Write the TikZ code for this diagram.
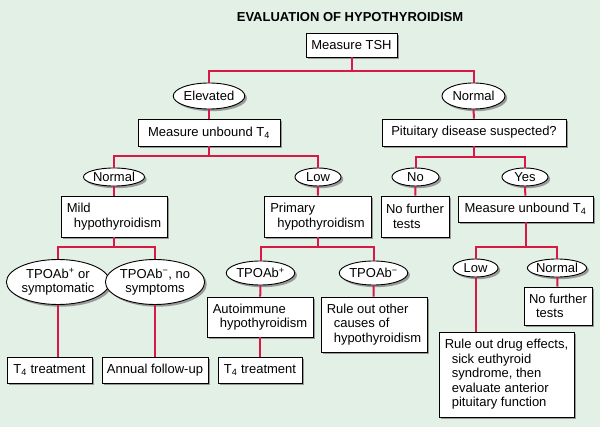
\documentclass[tikz,border=0pt]{standalone}
\usepackage{fontspec}
\setmainfont{Liberation Sans}
\usepackage{tikz}
\usetikzlibrary{positioning, shapes.geometric, shadows}

\definecolor{bggreen}{RGB}{226,240,230}
\definecolor{linkred}{RGB}{218,24,72}

\begin{document}
\begin{tikzpicture}[
    x=1pt, y=-1pt,
    font=\fontsize{13}{14.5}\selectfont,
    shade/.style={drop shadow={shadow xshift=2.2pt, shadow yshift=-2.2pt,
                  fill=black!40, opacity=1}},
    box/.style={draw, rectangle, fill=white, line width=0.9pt, shade,
                inner sep=4pt, align=left},
    oval/.style={draw, ellipse, fill=white, line width=0.9pt, shade,
                 inner sep=0pt, align=center},
    link/.style={draw=linkred, line width=2pt},
    title/.style={font=\fontsize{13}{15}\selectfont\bfseries}
]
\fill[bggreen] (0,0) rectangle (600,427);
\useasboundingbox (0,0) rectangle (600,427);
\node[title] (ttl) at (350,17) {EVALUATION OF HYPOTHYROIDISM};
% Top — TSH
\node[box, minimum width=91pt, minimum height=24pt] (tsh) at (351.5,45) {Measure TSH};
\node[oval, minimum width=64pt, minimum height=26pt] (elev) at (209,96) {Elevated};
\node[oval, minimum width=63pt, minimum height=26pt] (tshnorm) at (473.5,96) {Normal};
\draw[link] (tsh.south) -- ++(0,14) -| (elev.north);
\draw[link] (tsh.south) -- ++(0,14) -| (tshnorm.north);
% Left — elevated TSH
\node[box, minimum width=142pt, minimum height=27pt] (ftl) at (209,132.5)
      {Measure unbound T\textsubscript{4}};
\draw[link] (elev) -- (ftl);
\node[oval, minimum width=61pt, minimum height=18pt] (ftlnorm) at (114,177) {Normal};
\node[oval, minimum width=46pt, minimum height=18pt] (ftllow) at (318,177) {Low};
\draw[link] (ftl.south) -- ++(0,10) -| (ftlnorm.north);
\draw[link] (ftl.south) -- ++(0,10) -| (ftllow.north);
\node[box, minimum width=106pt, minimum height=41pt] (mild) at (114,216.5)
      {Mild\\\hspace*{7pt}hypothyroidism};
\node[box, minimum width=107pt, minimum height=41pt] (prim) at (317.5,216.5)
      {Primary\\\hspace*{7pt}hypothyroidism};
\draw[link] (ftlnorm) -- (mild);
\draw[link] (ftllow) -- (prim);
% Mild branch
\node[oval, minimum width=102pt, minimum height=45pt] (mpos) at (58,282)
      {TPOAb\textsuperscript{+} or\\symptomatic};
\node[oval, minimum width=84pt, minimum height=45pt] (mneg) at (155,282)
      {TPOAb\textsuperscript{−}, no\\symptoms};
\draw[link] (mild.south) -- ++(0,10) -| (mpos.north);
\draw[link] (mild.south) -- ++(0,10) -| (mneg.north);
\node[box, minimum width=85pt, minimum height=26pt, align=center] (treat1) at (49.5,370)
      {T\textsubscript{4} treatment};
\node[box, minimum width=106pt, minimum height=26pt, align=center] (annual) at (155,370)
      {Annual follow-up};
\draw[link] (mpos.south) -- (mpos.south |- treat1.north);
\draw[link] (mneg) -- (annual);
% Primary branch
\node[oval, minimum width=63pt, minimum height=24pt] (ppos) at (260.5,273)
      {TPOAb\textsuperscript{+}};
\node[oval, minimum width=63pt, minimum height=24pt] (pneg) at (373.5,273)
      {TPOAb\textsuperscript{−}};
\draw[link] (prim.south) -- ++(0,10) -| (ppos.north);
\draw[link] (prim.south) -- ++(0,10) -| (pneg.north);
\node[box, minimum width=106pt, minimum height=40pt] (auto) at (260,317)
      {Autoimmune\\\hspace*{7pt}hypothyroidism};
\node[box, minimum width=106pt, minimum height=55pt] (other) at (374,324.5)
      {Rule out other\\\hspace*{7pt}causes of\\\hspace*{7pt}hypothyroidism};
\node[box, minimum width=84pt, minimum height=26pt, align=center] (treat2) at (260,370)
      {T\textsubscript{4} treatment};
\draw[link] (ppos) -- (auto);
\draw[link] (pneg) -- (other);
\draw[link] (auto) -- (treat2);
% Right — normal TSH
\node[box, minimum width=184pt, minimum height=27pt] (pit) at (474,132.5)
      {Pituitary disease suspected?};
\draw[link] (tshnorm) -- (pit);
\node[oval, minimum width=47pt, minimum height=18pt] (pitno) at (415.5,177) {No};
\node[oval, minimum width=46pt, minimum height=18pt] (pityes) at (525,177) {Yes};
\draw[link] (pit.south) -- ++(0,11) -| (pitno.north);
\draw[link] (pit.south) -- ++(0,11) -| (pityes.north);
\node[box, minimum width=68pt, minimum height=41pt] (stop1) at (415,216.5)
      {No further\\\hspace*{7pt}tests};
\node[box, minimum width=135pt, minimum height=26pt] (ftr) at (525.5,209)
      {Measure unbound T\textsubscript{4}};
\draw[link] (pitno) -- (stop1);
\draw[link] (pityes) -- (ftr);
\node[oval, minimum width=45pt, minimum height=18pt] (ftrlow) at (475.5,268) {Low};
\node[oval, minimum width=56pt, minimum height=18pt] (ftrnorm) at (557,268) {Normal};
\draw[link] (ftr.south) -- ++(0,25) -| (ftrlow.north);
\draw[link] (ftr.south) -- ++(0,25) -| (ftrnorm.north);
\node[box, minimum width=135pt, minimum height=85pt] (drug) at (506.5,374.5)
      {Rule out drug effects,\\\hspace*{7pt}sick euthyroid\\\hspace*{7pt}syndrome, then\\
       \hspace*{7pt}evaluate anterior\\\hspace*{7pt}pituitary function};
\node[box, minimum width=68pt, minimum height=38pt] (stop2) at (558,306)
      {No further\\\hspace*{7pt}tests};
\draw[link] (ftrlow.south) -- (ftrlow.south |- drug.north);
\draw[link] (ftrnorm) -- (stop2);
\end{tikzpicture}
\end{document}
